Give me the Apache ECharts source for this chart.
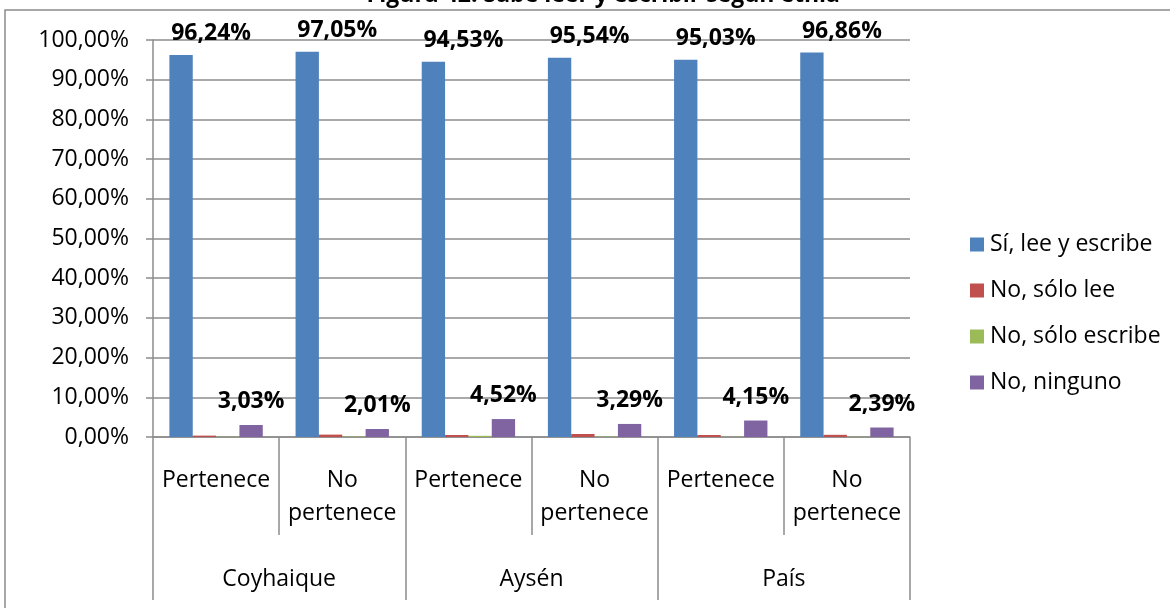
<!DOCTYPE html>
<html>
<head>
<meta charset="utf-8">
<script src="https://cdn.jsdelivr.net/npm/echarts@6/dist/echarts.min.js"></script>
<style>html,body{margin:0;padding:0;background:#fff;}#c{width:1170px;height:608px;}</style>
</head>
<body>
<div id="c"></div>
<script>
const titleText = 'Figura 42: Sabe leer y escribir según etnia';
const subCategories = ['Pertenece', 'No\npertenece', 'Pertenece', 'No\npertenece', 'Pertenece', 'No\npertenece'];
const groups = ['Coyhaique', 'Aysén', 'País'];
const seriesNames = ['Sí, lee y escribe', 'No, sólo lee', 'No, sólo escribe', 'No, ninguno'];
const leeEscribe = [96.24, 97.05, 94.53, 95.54, 95.03, 96.86];
const soloLee = [0.35, 0.6, 0.5, 0.75, 0.5, 0.55];
const soloEscribe = [0.05, 0.1, 0.3, 0.1, 0.05, 0.05];
const ninguno = [3.03, 2.01, 4.52, 3.29, 4.15, 2.39];
const yTicks = [0, 10, 20, 30, 40, 50, 60, 70, 80, 90, 100];

const FONT = 'Open Sans';
const FS = 23;
const fmt = v => v.toFixed(2).replace('.', ',') + '%';
const colors = ['#4F81BD', '#C0504D', '#9BBB59', '#8064A2'];
const gridColor = '#8c8c8c';

const chart = echarts.init(document.getElementById('c'));
const valuesList = [leeEscribe, soloLee, soloEscribe, ninguno];
const series = valuesList.map((vals, i) => {
  const s = {
    name: seriesNames[i], type: 'bar', data: vals, xAxisIndex: 0,
    barGap: 0, barCategoryGap: '26%',
    itemStyle: { color: colors[i] },
    label: { show: false }
  };
  if (i === 0) {
    s.label = { show: true, position: 'top', distance: 10, offset: [30, 0],
      formatter: p => fmt(p.value), fontFamily: FONT, fontWeight: 'bold', fontSize: FS, color: '#000' };
  } else if (i === 3) {
    s.label = { show: true, position: 'top', distance: 12,
      formatter: p => fmt(p.value), fontFamily: FONT, fontWeight: 'bold', fontSize: FS, color: '#000' };
  }
  return s;
});

chart.setOption({
  animation: false,
  textStyle: { fontFamily: FONT },
  grid: { left: 153, right: 260, top: 40, bottom: 171, containLabel: false },
  graphic: [
    { type: 'rect', shape: { x: 5, y: 10, width: 1400, height: 800 },
      style: { fill: 'none', stroke: gridColor, lineWidth: 1.5 }, silent: true },
    { type: 'text', x: 840, y: 7, style: { text: titleText, textAlign: 'right', textVerticalAlign: 'bottom',
      fontFamily: FONT, fontWeight: 'bold', fontSize: FS, fill: '#000' } }
  ],
  legend: {
    orient: 'vertical', left: 965, top: 228, itemWidth: 14, itemHeight: 14, itemGap: 23,
    icon: 'rect', data: seriesNames,
    textStyle: { fontFamily: FONT, fontSize: FS, color: '#000', padding: [0, 0, 0, 1] }
  },
  xAxis: [
    { type: 'category', data: subCategories, position: 'bottom',
      axisLine: { show: true, lineStyle: { color: gridColor, width: 1.5 } },
      axisTick: { show: true, length: 98, interval: 0, lineStyle: { color: gridColor, width: 1.5 } },
      axisLabel: { interval: 0, margin: 27, fontFamily: FONT, fontSize: FS, color: '#000', lineHeight: 33 } },
    { type: 'category', data: groups, position: 'bottom', offset: 0,
      axisLine: { show: false },
      axisTick: { show: true, length: 163, interval: 0, lineStyle: { color: gridColor, width: 1.5 } },
      axisLabel: { interval: 0, margin: 131, fontFamily: FONT, fontSize: FS, color: '#000' } }
  ],
  yAxis: {
    type: 'value', min: yTicks[0], max: yTicks[yTicks.length - 1], interval: 10,
    axisLine: { show: true, lineStyle: { color: gridColor, width: 1.5 } },
    axisTick: { show: true, length: 7, lineStyle: { color: gridColor, width: 1.5 } },
    splitLine: { show: true, lineStyle: { color: gridColor, width: 1.5 } },
    axisLabel: { margin: 24, fontFamily: FONT, fontSize: FS, color: '#000', formatter: v => fmt(v) }
  },
  series: series
});
</script>
</body>
</html>
